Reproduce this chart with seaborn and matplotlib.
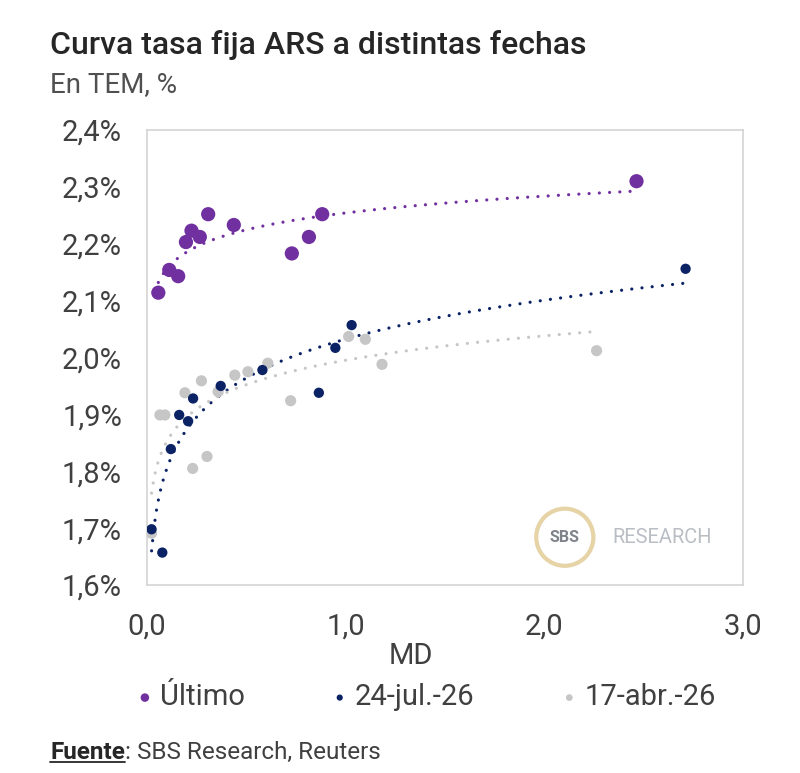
import numpy as np
import pandas as pd
import seaborn as sns
import matplotlib.pyplot as plt
from matplotlib.ticker import FuncFormatter, FixedLocator
from matplotlib.lines import Line2D

# Duración modificada (MD) y TEM (%)
md_ultimo = [0.057, 0.112, 0.157, 0.196, 0.224, 0.266, 0.308, 0.437, 0.729, 0.815, 0.882, 2.464]
tem_ultimo = [2.114, 2.154, 2.143, 2.203, 2.223, 2.212, 2.252, 2.233, 2.183, 2.212, 2.252, 2.310]

md_jul = [0.023, 0.077, 0.120, 0.162, 0.207, 0.232, 0.371, 0.581, 0.865, 0.948, 1.030, 2.711]
tem_jul = [1.698, 1.657, 1.839, 1.899, 1.888, 1.928, 1.950, 1.978, 1.938, 2.017, 2.057, 2.156]

md_abr = [0.023, 0.065, 0.090, 0.191, 0.274, 0.230, 0.302, 0.358, 0.442, 0.508, 0.608, 0.723,
          1.015, 1.099, 1.183, 2.263]
tem_abr = [1.691, 1.899, 1.899, 1.938, 1.959, 1.805, 1.826, 1.940, 1.969, 1.975, 1.990, 1.924,
           2.037, 2.032, 1.988, 2.012]

x_ticks = [0.0, 1.0, 2.0, 3.0]
y_ticks = [1.6, 1.7, 1.8, 1.9, 2.0, 2.1, 2.2, 2.3, 2.4]

series = [
    ("Último", md_ultimo, tem_ultimo, "#7030A0", 105),
    ("24-jul.-26", md_jul, tem_jul, "#0B2265", 55),
    ("17-abr.-26", md_abr, tem_abr, "#C6C6C6", 65),
]

sns.set_theme(style="white")
plt.rcParams['font.family'] = ['Roboto', 'DejaVu Sans']

fig = plt.figure(figsize=(8, 7.73), dpi=100)
ax = fig.add_axes([0.18375, 0.2432, 0.745, 0.5886])

# líneas de tendencia logarítmicas (como en Excel), dibujadas primero
for name, md, tem, color, size in series:
    b, a = np.polyfit(np.log(md), tem, 1)
    xs = np.linspace(min(md), max(md), 200)
    ax.plot(xs, a + b * np.log(xs), color=color, lw=2.3,
            linestyle=(0, (0.01, 3.2)), dash_capstyle="round", zorder=2)

for name, md, tem, color, size in series[::-1]:
    df = pd.DataFrame({"MD": md, "TEM": tem})
    sns.scatterplot(data=df, x="MD", y="TEM", ax=ax, color=color, s=size,
                    edgecolor="none", label=name, zorder=3)

ax.set_xlim(0, 3)
ax.set_ylim(1.6, 2.4)
ax.xaxis.set_major_locator(FixedLocator(x_ticks))
ax.yaxis.set_major_locator(FixedLocator(y_ticks))
ax.xaxis.set_major_formatter(FuncFormatter(lambda v, p: f"{v:.1f}".replace(".", ",")))
ax.yaxis.set_major_formatter(FuncFormatter(lambda v, p: f"{v:.1f}%".replace(".", ",")))
ax.tick_params(axis="both", length=0, labelsize=21, colors="#404040")
ax.tick_params(axis="x", pad=20)
ax.tick_params(axis="y", pad=18)
ax.set_xlabel("")
ax.set_ylabel("")
for sp in ax.spines.values():
    sp.set_color("#D4D4D4")
    sp.set_linewidth(1.2)

# leyenda
handles, labels = ax.get_legend_handles_labels()
order = [labels.index(s[0]) for s in series]
ax.get_legend().remove()
fig.legend([handles[i] for i in order], [labels[i] for i in order],
           loc="center left", bbox_to_anchor=(0.172, 0.098), ncol=3, frameon=False,
           fontsize=21, markerscale=0.6, handlelength=0.5, handletextpad=0.27,
           columnspacing=3.0, borderpad=0, borderaxespad=0, labelcolor="#404040")

fig.text(0.514, 0.152, "MD", fontsize=21, color="#404040", ha="center", va="center")

fig.text(0.0625, 0.942, "Curva tasa fija ARS a distintas fechas", fontsize=23,
         color="#262626", ha="left", va="center", fontweight="medium")
fig.text(0.0625, 0.89, "En TEM, %", fontsize=20, color="#505050", ha="left", va="center")

# fuente con subrayado
f1 = fig.text(0.0625, 0.027, "Fuente", fontsize=17.5, fontweight="bold", color="#262626",
              ha="left", va="center")
fig.canvas.draw()
bb = f1.get_window_extent().transformed(fig.transFigure.inverted())
fig.add_artist(Line2D([bb.x0, bb.x1], [bb.y0 + 0.002, bb.y0 + 0.002], color="#262626",
                      lw=1.3, transform=fig.transFigure))
fig.text(bb.x1, 0.027, ": SBS Research, Reuters", fontsize=17.5, color="#404040",
         ha="left", va="center")

# logo
fig.text(0.706, 0.305, "SBS", fontsize=11.5, fontweight="bold", color="#7F848B",
         ha="center", va="center",
         bbox=dict(boxstyle="circle,pad=0.85", facecolor="white", edgecolor="#E6D3A6", lw=3))
fig.text(0.765, 0.305, "RESEARCH", fontsize=14.5, color="#B9BEC4", ha="left", va="center")

fig.savefig("out.png", dpi=100, facecolor="white")
